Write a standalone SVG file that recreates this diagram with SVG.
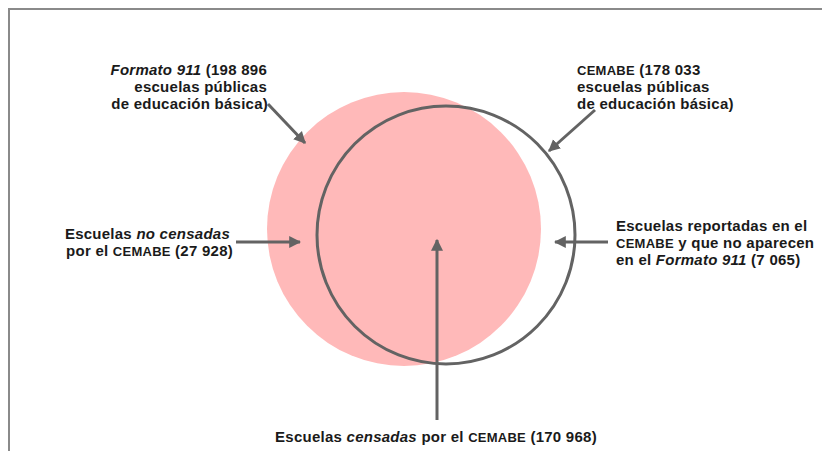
<svg xmlns="http://www.w3.org/2000/svg" width="822" height="451" viewBox="0 0 822 451">
<defs>
<marker id="ah" viewBox="0 0 10 10" refX="9" refY="5" markerWidth="4" markerHeight="5" markerUnits="strokeWidth" orient="auto">
<path d="M0,0 L10,5 L0,10 Z" fill="#636363"/>
</marker>
</defs>
<style>
.t{font-family:"Liberation Sans",Arial,sans-serif;font-weight:bold;font-size:15px;letter-spacing:0.25px;fill:#1a1a1a}
.sc{font-size:13px}
.it{font-style:italic}
.c{fill:none;stroke:#636363;stroke-width:3}
.frame{stroke:#8a8a8a;stroke-width:2;fill:none}
</style>
<rect width="822" height="451" fill="#fff"/>
<path class="frame" d="M9,451 V9 H822"/>
<g id="formato911">
<circle cx="404" cy="229" r="137" fill="#ffb9b9"/>
</g>
<g id="cemabe">
<circle cx="446" cy="235" r="129" fill="none" stroke="#636363" stroke-width="3"/>
</g>
<g id="connectors">
<line class="c" x1="268" y1="104" x2="305" y2="143" marker-end="url(#ah)"/>
<line class="c" x1="595" y1="110" x2="549" y2="151" marker-end="url(#ah)"/>
<line class="c" x1="236" y1="242" x2="300" y2="242" marker-end="url(#ah)"/>
<line class="c" x1="608" y1="242" x2="555" y2="242" marker-end="url(#ah)"/>
<line class="c" x1="437" y1="420" x2="437" y2="240" marker-end="url(#ah)"/>
</g>
<g id="label-formato">
<text class="t" text-anchor="end" x="267" y="75"><tspan class="it">Formato 911</tspan> (198 896</text>
<text class="t" text-anchor="end" x="267" y="92">escuelas públicas</text>
<text class="t" text-anchor="end" x="268" y="109">de educación básica)</text>
</g>
<g id="label-cemabe">
<text class="t" x="577" y="75"><tspan class="sc">CEMABE</tspan> (178 033</text>
<text class="t" x="577" y="92">escuelas públicas</text>
<text class="t" x="577" y="109">de educación básica)</text>
</g>
<g id="label-no-censadas">
<text class="t" text-anchor="end" x="230" y="239">Escuelas <tspan class="it">no censadas</tspan></text>
<text class="t" text-anchor="end" x="233" y="256">por el <tspan class="sc">CEMABE</tspan> (27 928)</text>
</g>
<g id="label-reportadas">
<text class="t" x="616" y="231">Escuelas reportadas en el</text>
<text class="t" x="616" y="248"><tspan class="sc">CEMABE</tspan> y que no aparecen</text>
<text class="t" x="616" y="265">en el <tspan class="it">Formato 911</tspan> (7 065)</text>
</g>
<g id="label-censadas">
<text class="t" text-anchor="middle" x="436" y="442">Escuelas <tspan class="it">censadas</tspan> por el <tspan class="sc">CEMABE</tspan> (170 968)</text>
</g>
</svg>
